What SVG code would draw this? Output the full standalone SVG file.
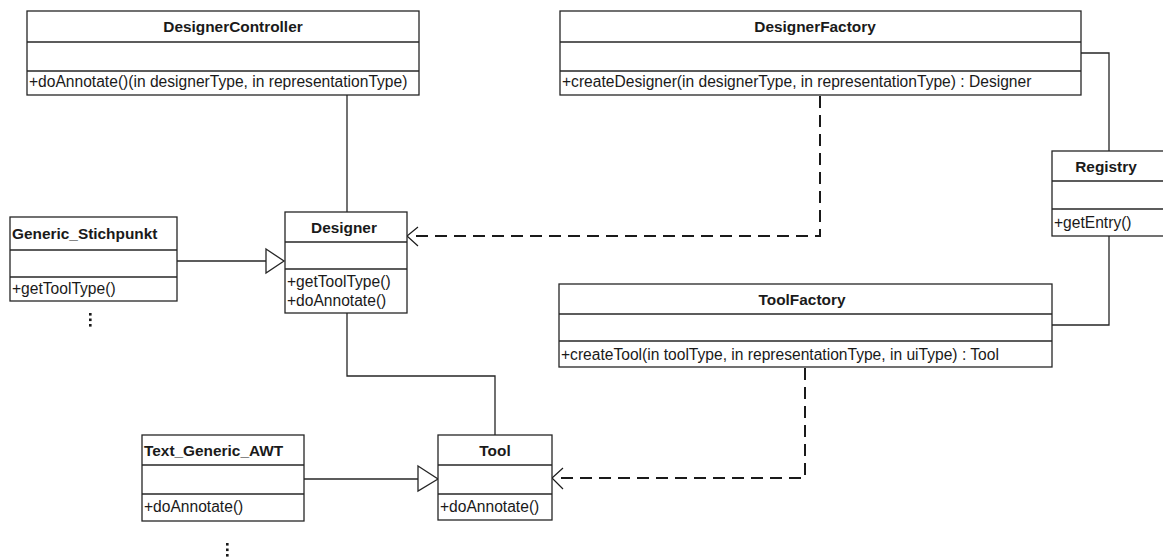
<svg xmlns="http://www.w3.org/2000/svg" width="1163" height="558" viewBox="0 0 1163 558">
  <style>
    .box { fill: #ffffff; stroke: #262626; stroke-width: 1.3; }
    .sep { stroke: #262626; stroke-width: 1.3; fill: none; }
    .name { font-family: "Liberation Sans", Arial, sans-serif; font-size: 15.4px; font-weight: bold; fill: #1a1a1a; }
    .c { text-anchor: middle; }
    .op { font-family: "Liberation Sans", Arial, sans-serif; font-size: 15.6px; fill: #1a1a1a; }
    .link { stroke: #262626; stroke-width: 1.3; fill: none; }
    .dep { stroke: #1a1a1a; stroke-width: 2; fill: none; stroke-dasharray: 12 7; }
    .head { stroke: #1a1a1a; stroke-width: 1.2; fill: none; }
    .gen { stroke: #262626; stroke-width: 1.3; fill: #ffffff; }
    .dots { fill: #1a1a1a; }
  </style>

  <!-- associations, generalizations and dependencies -->
  <g id="connectors">
    <polyline class="link" points="347,95 347,212"/>
    <polyline class="link" points="1081,53 1109,53 1109,151"/>
    <polyline class="link" points="1109,236 1109,325 1052,325"/>
    <polyline class="link" points="347,313 347,376 495,376 495,435"/>
    <line class="link" x1="177" y1="261" x2="266" y2="261"/>
    <polygon class="gen" points="266,249 284,261 266,273"/>
    <line class="link" x1="304" y1="479" x2="418" y2="479"/>
    <polygon class="gen" points="418,466 438,479 418,491"/>
    <polyline class="dep" points="820,96 820,236 409,236"/>
    <polyline class="head" points="418,227 407,236 418,246"/>
    <polyline class="dep" points="805,368 805,478 554,478"/>
    <polyline class="head" points="563,468 552,478 563,489"/>
  </g>

  <g id="DesignerController">
    <rect class="box" x="27" y="11" width="392" height="84"/>
    <line class="sep" x1="27" y1="42" x2="419" y2="42"/>
    <line class="sep" x1="27" y1="71" x2="419" y2="71"/>
    <text class="name c" x="233" y="32">DesignerController</text>
    <text class="op" x="29" y="87">+doAnnotate()(in designerType, in representationType)</text>
  </g>

  <g id="DesignerFactory">
    <rect class="box" x="560" y="11" width="521" height="84"/>
    <line class="sep" x1="560" y1="42" x2="1081" y2="42"/>
    <line class="sep" x1="560" y1="71" x2="1081" y2="71"/>
    <text class="name c" x="815" y="32">DesignerFactory</text>
    <text class="op" x="562" y="87">+createDesigner(in designerType, in representationType) : Designer</text>
  </g>

  <g id="Registry">
    <rect class="box" x="1052" y="151" width="120" height="85"/>
    <line class="sep" x1="1052" y1="181" x2="1172" y2="181"/>
    <line class="sep" x1="1052" y1="209" x2="1172" y2="209"/>
    <text class="name c" x="1106" y="172">Registry</text>
    <text class="op" x="1054" y="228">+getEntry()</text>
  </g>

  <g id="Designer">
    <rect class="box" x="285" y="212" width="122" height="101"/>
    <line class="sep" x1="285" y1="242" x2="407" y2="242"/>
    <line class="sep" x1="285" y1="269" x2="407" y2="269"/>
    <text class="name c" x="344" y="233">Designer</text>
    <text class="op" x="287" y="287">+getToolType()</text>
    <text class="op" x="287" y="306">+doAnnotate()</text>
  </g>

  <g id="Generic_Stichpunkt">
    <rect class="box" x="10" y="217" width="167" height="84"/>
    <line class="sep" x1="10" y1="250" x2="177" y2="250"/>
    <line class="sep" x1="10" y1="277" x2="177" y2="277"/>
    <text class="name" x="12" y="239">Generic_Stichpunkt</text>
    <text class="op" x="12" y="294">+getToolType()</text>
    <g class="dots">
      <rect x="89" y="313" width="2.6" height="2.6"/>
      <rect x="89" y="318.5" width="2.6" height="2.6"/>
      <rect x="89" y="324" width="2.6" height="2.6"/>
    </g>
  </g>

  <g id="ToolFactory">
    <rect class="box" x="559" y="284" width="493" height="83"/>
    <line class="sep" x1="559" y1="314" x2="1052" y2="314"/>
    <line class="sep" x1="559" y1="341" x2="1052" y2="341"/>
    <text class="name c" x="802" y="305">ToolFactory</text>
    <text class="op" x="561" y="360">+createTool(in toolType, in representationType, in uiType) : Tool</text>
  </g>

  <g id="Tool">
    <rect class="box" x="438" y="435" width="114" height="85"/>
    <line class="sep" x1="438" y1="465" x2="552" y2="465"/>
    <line class="sep" x1="438" y1="494" x2="552" y2="494"/>
    <text class="name c" x="495" y="456">Tool</text>
    <text class="op" x="440" y="512">+doAnnotate()</text>
  </g>

  <g id="Text_Generic_AWT">
    <rect class="box" x="142" y="435" width="162" height="86"/>
    <line class="sep" x1="142" y1="465" x2="304" y2="465"/>
    <line class="sep" x1="142" y1="494" x2="304" y2="494"/>
    <text class="name" x="144" y="456">Text_Generic_AWT</text>
    <text class="op" x="144" y="512">+doAnnotate()</text>
    <g class="dots">
      <rect x="226" y="543" width="2.6" height="2.6"/>
      <rect x="226" y="548.5" width="2.6" height="2.6"/>
      <rect x="226" y="554" width="2.6" height="2.6"/>
    </g>
  </g>
</svg>
